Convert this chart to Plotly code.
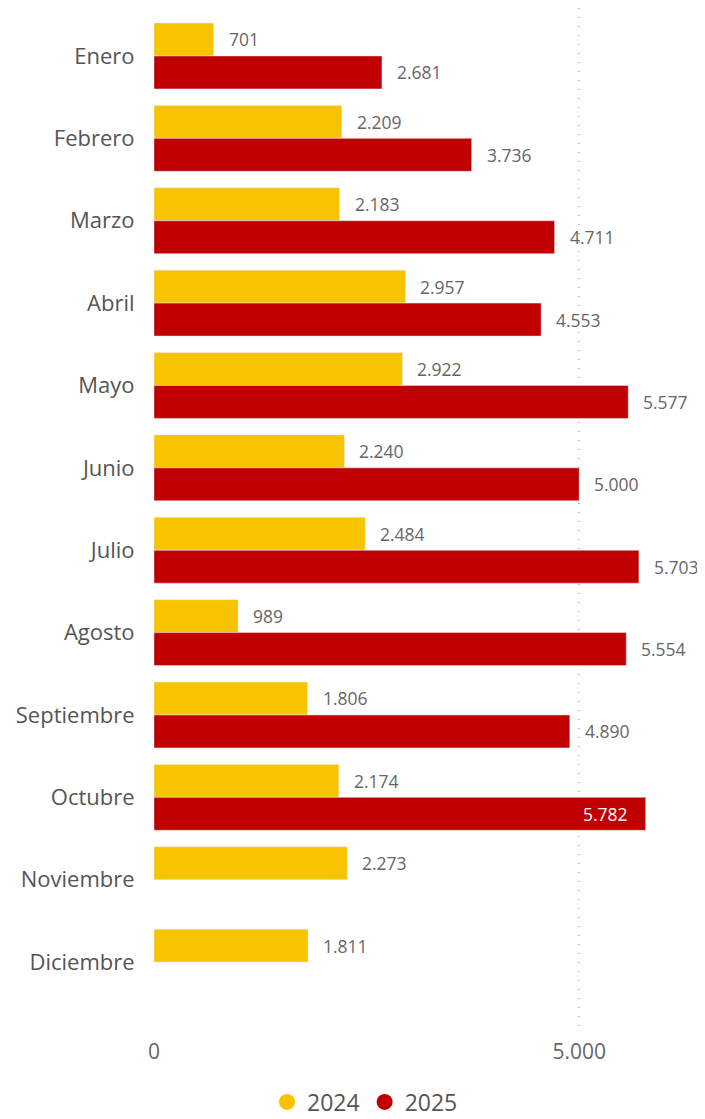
import plotly.graph_objects as go

months = ["Enero", "Febrero", "Marzo", "Abril", "Mayo", "Junio", "Julio",
          "Agosto", "Septiembre", "Octubre", "Noviembre", "Diciembre"]
v2024 = [701, 2209, 2183, 2957, 2922, 2240, 2484, 989, 1806, 2174, 2273, 1811]
v2025 = [2681, 3736, 4711, 4553, 5577, 5000, 5703, 5554, 4890, 5782, None, None]
x_tickvals = [0, 5000]
x_ticktext = ["0", "5.000"]

C24 = "#F8C300"
C25 = "#C00000"
FONT = "Segoe UI, Open Sans, sans-serif"
XMAX = 6480


def fmt(v):
    return f"{v:,}".replace(",", ".")


fig = go.Figure()
fig.add_trace(go.Bar(y=months, x=v2024, orientation="h", marker_color=C24,
                     name="2024", showlegend=False))
fig.add_trace(go.Bar(y=months, x=v2025, orientation="h", marker_color=C25,
                     name="2025", showlegend=False))
# legend entries with circle markers
fig.add_trace(go.Scatter(x=[None], y=[None], mode="markers", name="2024",
                         marker=dict(color=C24, size=20, symbol="circle")))
fig.add_trace(go.Scatter(x=[None], y=[None], mode="markers", name="2025",
                         marker=dict(color=C25, size=20, symbol="circle")))

annotations = []
for vals, shift in ((v2024, 16.5), (v2025, -16.5)):
    for m, v in zip(months, vals):
        if v is None:
            continue
        inside = v > 5750
        annotations.append(dict(
            x=v, y=m, xref="x", yref="y", text=fmt(v), showarrow=False,
            xanchor="right" if inside else "left",
            xshift=-16 if inside else 13, yshift=shift,
            font=dict(family=FONT, size=17.5, color="#FFFFFF" if inside else "#666666"),
        ))

fig.update_layout(
    width=697, height=1111,
    margin=dict(l=146, r=0, t=0, b=91, autoexpand=False),
    plot_bgcolor="white", paper_bgcolor="white",
    barmode="group", bargap=0.2, bargroupgap=0,
    font=dict(family=FONT, color="#666666"),
    annotations=annotations,
    showlegend=True,
    legend=dict(orientation="h", x=0.383, xanchor="center", y=-0.0725, yanchor="middle",
                font=dict(family=FONT, size=23, color="#555555"),
                itemwidth=30, tracegroupgap=0),
)
fig.update_xaxes(range=[0, XMAX], tickvals=x_tickvals, ticktext=x_ticktext,
                 showgrid=True, gridcolor="#BDBDBD", griddash="1px,8px", gridwidth=1.5,
                 zeroline=False, showline=False, ticks="outside", ticklen=5,
                 tickcolor="rgba(0,0,0,0)",
                 tickfont=dict(family=FONT, size=21, color="#666666"))
fig.update_yaxes(range=[11.80, -0.5825], showgrid=False, zeroline=False,
                 ticks="outside", ticklen=14, tickcolor="rgba(0,0,0,0)",
                 tickfont=dict(family=FONT, size=22, color="#555555"))

fig.write_html("out.html")
